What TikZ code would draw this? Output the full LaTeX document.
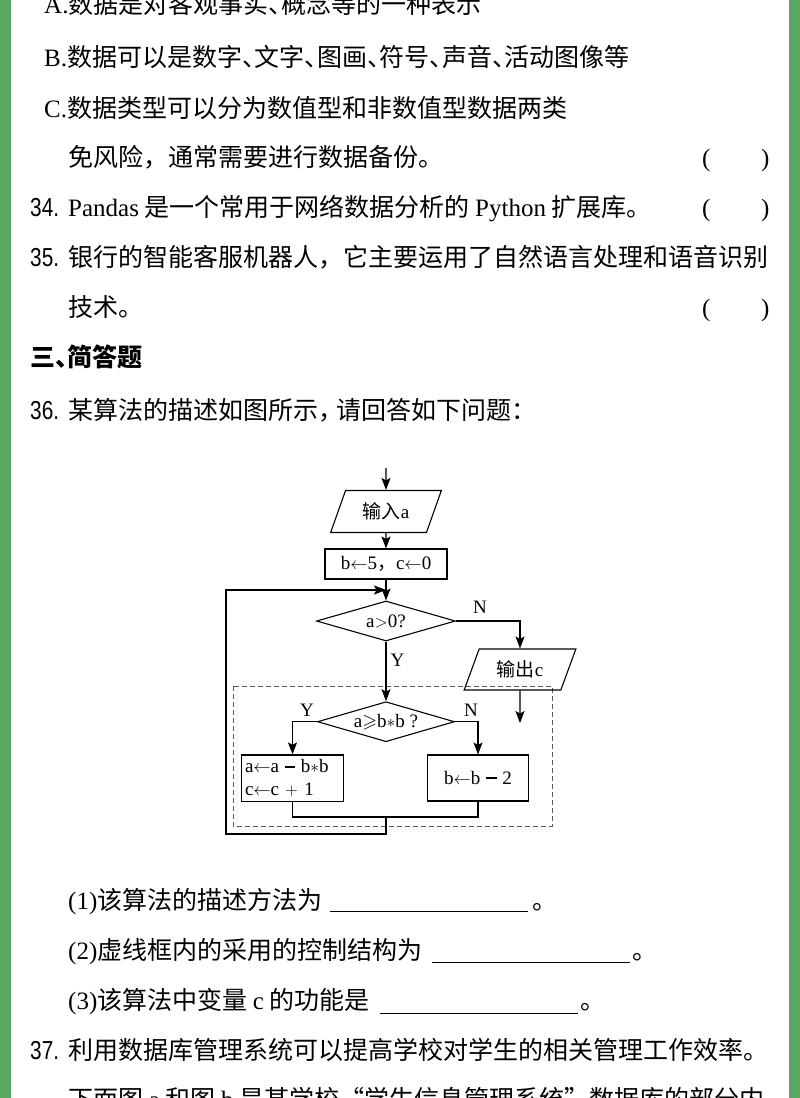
\documentclass[tikz,border=0pt]{standalone}
\usepackage{fontspec}
\usepackage{graphicx}
\usepackage{amssymb}
\setmainfont{Liberation Serif}
\setsansfont{Liberation Sans}
\newfontfamily\cjk{Noto Sans CJK SC}
\usetikzlibrary{shapes.geometric,arrows.meta}
\definecolor{pagegreen}{RGB}{88,168,100}
\definecolor{dashgray}{RGB}{90,90,90}
\newcommand\lat[1]{{\rmfamily #1}}
\newcommand\qnum[1]{\scalebox{0.8}[1]{\sffamily\fontsize{26}{30}\selectfont #1}}
\newcommand\hdun{\makebox[12.5pt][l]{、}}
\newcommand\hdou{\makebox[18pt][l]{，}}
\newcommand\bminus{\hspace{0.3em}\rule[0.28em]{0.55em}{0.09em}\hspace{0.3em}}
\tikzset{
  txt/.style={anchor=base west, inner sep=0pt, font=\cjk\fontsize{25}{30}\selectfont},
  fcl/.style={font=\rmfamily\fontsize{19}{23}\selectfont},
  fcc/.style={font=\cjk\fontsize{19}{23}\selectfont},
  lab/.style={inner sep=0pt, font=\rmfamily\fontsize{19}{23}\selectfont},
  stepbox/.style={draw, line width=1.1pt, inner sep=2pt, fcl},
  iobox/.style={trapezium, trapezium left angle=64, trapezium right angle=116,
    trapezium stretches=true, draw, line width=1.1pt, inner sep=0pt, fcc},
  decbox/.style={diamond, draw, aspect=3.45, inner sep=0pt, line width=1.1pt, fcl},
  arr/.style={-{Stealth[length=12pt,width=9pt,inset=2.5pt]}, line width=1.1pt},
  ln/.style={line width=1.1pt},
}
\begin{document}
\begin{tikzpicture}[x=1pt,y=-1pt]
\useasboundingbox (0,0) rectangle (800,1098);
\begin{scope}
\clip (0,0) rectangle (800,1098);
\fill[white] (0,0) rectangle (800,1098);
\fill[pagegreen] (0,0) rectangle (11,1098);
\fill[pagegreen] (789,0) rectangle (800,1098);

% ---------- text lines ----------
\node[txt] (la) at (44,13) {\lat{A.}数据是对客观事实\hdun 概念等的一种表示};
\node[txt] (lb) at (44,66) {\lat{B.}数据可以是数字\hdun 文字\hdun 图画\hdun 符号\hdun 声音\hdun 活动图像等};
\node[txt] (lc) at (44,117) {\lat{C.}数据类型可以分为数值型和非数值型数据两类};
\node[txt] (l33) at (68,166) {免风险，通常需要进行数据备份。};
\node[txt] (p33a) at (702,166) {\lat{(}};
\node[txt] (p33b) at (761,166) {\lat{)}};

\node[txt] (n34) at (30,216) {\qnum{34.}};
\node[txt] (l34) at (68,216) {\lat{Pandas} 是一个常用于网络数据分析的 \lat{Python} 扩展库。};
\node[txt] (p34a) at (702,216) {\lat{(}};
\node[txt] (p34b) at (761,216) {\lat{)}};

\node[txt] (n35) at (30,266) {\qnum{35.}};
\node[txt] (l35) at (68,266) {银行的智能客服机器人，它主要运用了自然语言处理和语音识别};
\node[txt] (l35b) at (68,316) {技术。};
\node[txt] (p35a) at (702,316) {\lat{(}};
\node[txt] (p35b) at (761,316) {\lat{)}};

\node[txt, font=\cjk\bfseries\fontsize{25}{30}\selectfont] (sec3) at (30,366) {三\hdun 简答题};

\node[txt] (n36) at (30,419) {\qnum{36.}};
\node[txt] (l36) at (68,419) {某算法的描述如图所示\hdou 请回答如下问题：};

\node[txt] (q1) at (68,909) {\lat{(1)}该算法的描述方法为};
\draw[line width=0.9pt] (330,911) -- (528,911);
\node[txt] (q1e) at (532,909) {。};
\node[txt] (q2) at (68,959) {\lat{(2)}虚线框内的采用的控制结构为};
\draw[line width=0.9pt] (432,962) -- (630,962);
\node[txt] (q2e) at (632,959) {。};
\node[txt] (q3) at (68,1009) {\lat{(3)}该算法中变量 \lat{c} 的功能是};
\draw[line width=0.9pt] (380,1013) -- (578,1013);
\node[txt] (q3e) at (580,1009) {。};

\node[txt] (n37) at (30,1059) {\qnum{37.}};
\node[txt] (l37) at (68,1059) {利用数据库管理系统可以提高学校对学生的相关管理工作效率。};
\node[txt] (l37b) at (68,1108) {下面图 \lat{a} 和图 \lat{b} 是某学校“学生信息管理系统”数据库的部分内};

% ---------- flowchart ----------
\draw[line width=1pt, dashgray, dash pattern=on 5pt off 3pt] (233,686) rectangle (552,826);

\node[iobox, minimum width=111pt, minimum height=42pt] (in) at (386,511.5) {输入\lat{a}};
\node[stepbox, minimum width=122pt, minimum height=30pt] (init) at (386,564)
  {b$\leftarrow$5{\cjk ，}c$\leftarrow$0};
\node[decbox, minimum width=139pt, minimum height=40pt] (d1) at (386,621) {a$>$0?};
\node[iobox, minimum width=112pt, minimum height=41pt] (out) at (520,669.5) {输出\lat{c}};
\node[decbox, minimum width=137pt, minimum height=40pt] (d2) at (386,721.7) {a$\geqslant$b$*$b ?};
\node[stepbox, minimum width=101.6pt, minimum height=46.7pt, text width=95pt, align=left,
  font=\rmfamily\fontsize{19}{23}\selectfont] (L) at (292.5,778.3)
  {a$\leftarrow$a\bminus b$*$b\\c$\leftarrow$c $+$ 1};
\node[stepbox, minimum width=101pt, minimum height=46pt] (R) at (478,778) {b$\leftarrow$b\bminus 2};

\node[lab] (n1) at (480,607) {N};
\node[lab] (y1) at (397.5,660) {Y};
\node[lab] (y2) at (307,710) {Y};
\node[lab] (n2) at (471,710) {N};

\coordinate (start) at (386,468);
\coordinate (entry) at (386,590);
\coordinate (outend) at (520,723);
\coordinate (join) at (386,817);
\coordinate (loopc) at (226,834);

\draw[arr] (start) -- (in.north);
\draw[arr] (in.south) -- (init.north);
\draw[arr] (init.south) -- (d1.north);
\draw[arr] (d1.south) -- (d2.north);
\draw[arr] (d1.east) -| (out.north);
\draw[arr] (out.south) -- (outend);
\draw[arr] (d2.west) -| (L.north);
\draw[arr] (d2.east) -| (R.north);
\draw[ln] (L.south) |- (join) -| (R.south);
\draw[arr] (join) |- (loopc) |- (entry);
\end{scope}
\end{tikzpicture}
\end{document}
